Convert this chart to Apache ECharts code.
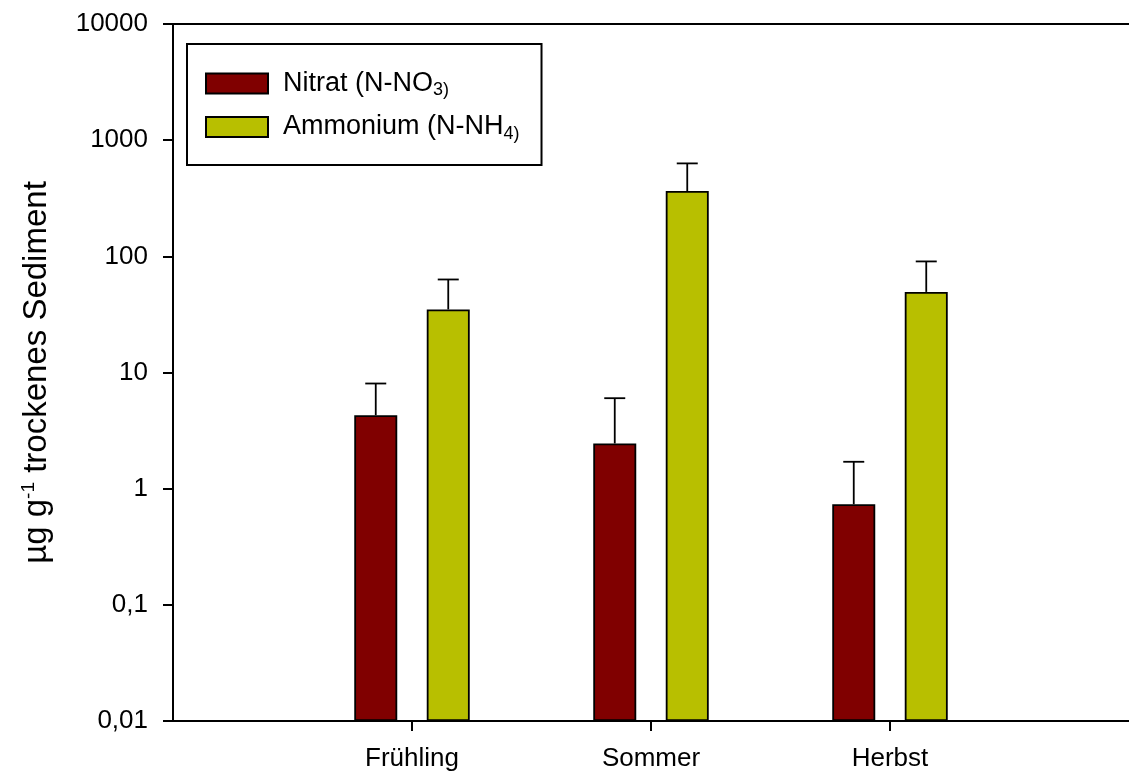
<!DOCTYPE html>
<html>
<head>
<meta charset="utf-8">
<script src="https://cdn.jsdelivr.net/npm/echarts@6/dist/echarts.min.js"></script>
<style>
  html, body { margin: 0; padding: 0; background: #fff; }
  #chart { width: 1129px; height: 774px; }
</style>
</head>
<body>
<div id="chart"></div>
<script>
// Seasons along the x axis (positions 1..3 on a value axis)
const seasons = ['Frühling', 'Sommer', 'Herbst'];
const seasonPos = [1, 2, 3];

// Nitrate (N-NO3), µg per g dry sediment, mean and upper error
const nitrat = [4.29, 2.45, 0.734];
const nitratErr = [3.75, 3.56, 0.97];

// Ammonium (N-NH4), µg per g dry sediment, mean and upper error
const ammonium = [34.9, 365, 49.4];
const ammoniumErr = [28.3, 266, 41];

// Log-axis tick labels (decimal comma)
const yTickLabels = ['0,01', '0,1', '1', '10', '100', '1000', '10000'];

const FONT = 'Liberation Sans, Arial, sans-serif';
const BAR_W = 43;
const BAR_OFFSET = 36.25;

function errorSeries(name, means, errs, dir) {
  return {
    name: name + ' Fehler',
    type: 'custom',
    z: 1,
    data: seasonPos.map((p, i) => [p, means[i], means[i] + errs[i]]),
    renderItem: function (params, api) {
      const base = api.coord([api.value(0), api.value(1)]);
      const top = api.coord([api.value(0), api.value(2)]);
      const x = base[0] + dir * BAR_OFFSET;
      const style = { stroke: '#000', lineWidth: 1.8, fill: null };
      return {
        type: 'group',
        children: [
          { type: 'line', shape: { x1: x, y1: base[1], x2: x, y2: top[1] }, style: style },
          { type: 'line', shape: { x1: x - 10.5, y1: top[1], x2: x + 10.5, y2: top[1] }, style: style }
        ]
      };
    }
  };
}

const chart = echarts.init(document.getElementById('chart'), null, { renderer: 'canvas' });

chart.setOption({
  backgroundColor: '#fff',
  animation: false,
  textStyle: { fontFamily: FONT },
  grid: { left: 173, right: -8, top: 24, bottom: 53, containLabel: false },
  legend: {
    data: ['Nitrat', 'Ammonium'],
    orient: 'vertical',
    left: 187,
    top: 44,
    itemWidth: 62,
    itemHeight: 20,
    itemGap: 14,
    padding: [26, 22, 22, 18],
    borderColor: '#000',
    borderWidth: 2,
    borderRadius: 0,
    icon: 'rect',
    textStyle: {
      fontFamily: FONT,
      fontSize: 27,
      color: '#000',
      padding: [0, 0, 0, 10],
      rich: {
        m: { fontFamily: FONT, fontSize: 27, color: '#000', lineHeight: 32 },
        s: { fontFamily: FONT, fontSize: 18, color: '#000', lineHeight: 17, verticalAlign: 'bottom' }
      }
    },
    formatter: function (name) {
      if (name === 'Nitrat') return '{m|Nitrat (N-NO}{s|3)}';
      return '{m|Ammonium (N-NH}{s|4)}';
    }
  },
  xAxis: [
    {
      type: 'value',
      min: 0,
      max: 4,
      interval: 1,
      position: 'bottom',
      splitLine: { show: false },
      axisLine: { show: true, lineStyle: { color: '#000', width: 2 } },
      axisTick: {
        show: true,
        length: 10,
        lineStyle: { color: '#000', width: 2 },
        customValues: seasonPos
      },
      axisLabel: {
        color: '#000',
        fontSize: 26,
        fontFamily: FONT,
        margin: 25,
        customValues: seasonPos,
        formatter: function (v) {
          const i = seasonPos.indexOf(Math.round(v));
          return i >= 0 && Math.abs(v - Math.round(v)) < 1e-6 ? seasons[i] : '';
        }
      }
    },
    {
      type: 'value',
      min: 0,
      max: 4,
      position: 'top',
      splitLine: { show: false },
      axisLine: { show: true, lineStyle: { color: '#000', width: 2 } },
      axisTick: { show: false },
      axisLabel: { show: false }
    }
  ],
  yAxis: {
    type: 'log',
    logBase: 10,
    min: 0.01,
    max: 10000,
    startValue: 0.01,
    splitLine: { show: false },
    axisLine: { show: true, lineStyle: { color: '#000', width: 2 } },
    axisTick: { show: true, length: 10, lineStyle: { color: '#000', width: 2 } },
    minorTick: { show: false },
    axisLabel: {
      color: '#000',
      fontSize: 26,
      fontFamily: FONT,
      margin: 25,
      formatter: function (v) {
        const i = Math.round(Math.log10(v)) + 2;
        return yTickLabels[i] !== undefined ? yTickLabels[i] : '';
      }
    },
    name: '{m|µg g}{s|-1}{m| trockenes Sediment}',
    nameLocation: 'middle',
    nameRotate: 90,
    nameGap: 118,
    nameTextStyle: {
      color: '#000',
      fontFamily: FONT,
      rich: {
        m: { fontFamily: FONT, fontSize: 33, color: '#000', lineHeight: 36 },
        s: { fontFamily: FONT, fontSize: 19, color: '#000', lineHeight: 19, verticalAlign: 'top' }
      }
    }
  },
  series: [
    {
      name: 'Nitrat',
      type: 'bar',
      barWidth: BAR_W,
      barGap: '68.6%',
      z: 2,
      itemStyle: { color: '#800000', borderColor: '#000', borderWidth: 1.8 },
      data: seasonPos.map((p, i) => [p, nitrat[i]])
    },
    {
      name: 'Ammonium',
      type: 'bar',
      barWidth: BAR_W,
      barGap: '68.6%',
      z: 2,
      itemStyle: { color: '#b8bf00', borderColor: '#000', borderWidth: 1.8 },
      data: seasonPos.map((p, i) => [p, ammonium[i]])
    },
    errorSeries('Nitrat', nitrat, nitratErr, -1),
    errorSeries('Ammonium', ammonium, ammoniumErr, 1)
  ]
});
</script>
</body>
</html>
